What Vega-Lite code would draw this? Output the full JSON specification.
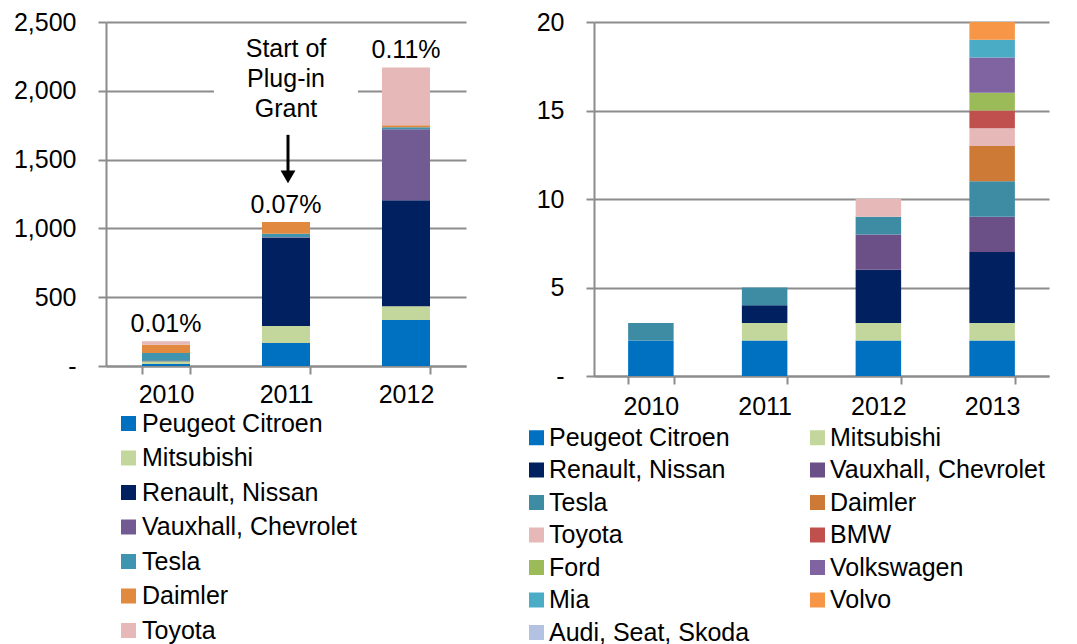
{
  "$schema": "https://vega.github.io/schema/vega-lite/v6.json",
  "padding": {"left": 13, "top": 10, "right": 5, "bottom": 5},
  "background": "white",
  "config": {
    "font": "Liberation Sans",
    "view": {"stroke": null},
    "axis": {"labelFont": "Liberation Sans", "labelFontSize": 25, "labelColor": "#000000", "domainColor": "#8c8c8c", "domainWidth": 2, "tickColor": "#8c8c8c", "tickWidth": 2, "tickSize": 8, "gridColor": "#8c8c8c", "gridWidth": 2, "title": null},
    "legend": {"orient": "none", "symbolType": "square", "symbolSize": 225, "symbolStrokeWidth": 0, "labelFont": "Liberation Sans", "labelFontSize": 25, "labelColor": "#000000", "labelLimit": 400, "title": null},
    "concat": {"spacing": 58}
  },
  "resolve": {"scale": {"color": "independent", "x": "independent", "y": "independent"}, "legend": {"color": "independent"}},
  "datasets": {
    "left": [
      {"year": "2010", "maker": "Peugeot Citroen", "k": 1, "value": 15},
      {"year": "2010", "maker": "Mitsubishi", "k": 2, "value": 20},
      {"year": "2010", "maker": "Renault, Nissan", "k": 3, "value": 5},
      {"year": "2010", "maker": "Tesla", "k": 5, "value": 55},
      {"year": "2010", "maker": "Daimler", "k": 6, "value": 60},
      {"year": "2010", "maker": "Toyota", "k": 7, "value": 25},
      {"year": "2011", "maker": "Peugeot Citroen", "k": 1, "value": 167},
      {"year": "2011", "maker": "Mitsubishi", "k": 2, "value": 124},
      {"year": "2011", "maker": "Renault, Nissan", "k": 3, "value": 640},
      {"year": "2011", "maker": "Vauxhall, Chevrolet", "k": 4, "value": 5},
      {"year": "2011", "maker": "Tesla", "k": 5, "value": 25},
      {"year": "2011", "maker": "Daimler", "k": 6, "value": 85},
      {"year": "2012", "maker": "Peugeot Citroen", "k": 1, "value": 334},
      {"year": "2012", "maker": "Mitsubishi", "k": 2, "value": 100},
      {"year": "2012", "maker": "Renault, Nissan", "k": 3, "value": 770},
      {"year": "2012", "maker": "Vauxhall, Chevrolet", "k": 4, "value": 516},
      {"year": "2012", "maker": "Tesla", "k": 5, "value": 15},
      {"year": "2012", "maker": "Daimler", "k": 6, "value": 15},
      {"year": "2012", "maker": "Toyota", "k": 7, "value": 420}
    ],
    "leftPct": [
      {"year": "2010", "total": 180, "t": "0.01%"},
      {"year": "2011", "total": 1046, "t": "0.07%"},
      {"year": "2012", "total": 2170, "t": "0.11%"}
    ],
    "note": [
      {"year": "2011", "y": 2304, "t": "Start of"},
      {"year": "2011", "y": 2086, "t": "Plug-in"},
      {"year": "2011", "y": 1868, "t": "Grant"}
    ],
    "noteBox": [{"year": "2011", "top": 2420, "bot": 1740}],
    "arrow": [{"year": "2011", "y1": 1680, "y2": 1380}],
    "arrowHead": [{"year": "2011", "y": 1375}],
    "right": [
      {"year": "2010", "maker": "Peugeot Citroen", "k": 1, "value": 2},
      {"year": "2010", "maker": "Tesla", "k": 5, "value": 1},
      {"year": "2011", "maker": "Peugeot Citroen", "k": 1, "value": 2},
      {"year": "2011", "maker": "Mitsubishi", "k": 2, "value": 1},
      {"year": "2011", "maker": "Renault, Nissan", "k": 3, "value": 1},
      {"year": "2011", "maker": "Tesla", "k": 5, "value": 1},
      {"year": "2012", "maker": "Peugeot Citroen", "k": 1, "value": 2},
      {"year": "2012", "maker": "Mitsubishi", "k": 2, "value": 1},
      {"year": "2012", "maker": "Renault, Nissan", "k": 3, "value": 3},
      {"year": "2012", "maker": "Vauxhall, Chevrolet", "k": 4, "value": 2},
      {"year": "2012", "maker": "Tesla", "k": 5, "value": 1},
      {"year": "2012", "maker": "Toyota", "k": 7, "value": 1},
      {"year": "2013", "maker": "Peugeot Citroen", "k": 1, "value": 2},
      {"year": "2013", "maker": "Mitsubishi", "k": 2, "value": 1},
      {"year": "2013", "maker": "Renault, Nissan", "k": 3, "value": 4},
      {"year": "2013", "maker": "Vauxhall, Chevrolet", "k": 4, "value": 2},
      {"year": "2013", "maker": "Tesla", "k": 5, "value": 2},
      {"year": "2013", "maker": "Daimler", "k": 6, "value": 2},
      {"year": "2013", "maker": "Toyota", "k": 7, "value": 1},
      {"year": "2013", "maker": "BMW", "k": 8, "value": 1},
      {"year": "2013", "maker": "Ford", "k": 9, "value": 1},
      {"year": "2013", "maker": "Volkswagen", "k": 10, "value": 2},
      {"year": "2013", "maker": "Mia", "k": 11, "value": 1},
      {"year": "2013", "maker": "Volvo", "k": 12, "value": 1}
    ]
  },
  "hconcat": [
    {
      "width": 360,
      "height": 344,
      "layer": [
        {
          "data": {"name": "left"},
          "mark": {"type": "bar"},
          "encoding": {
            "x": {"field": "year", "type": "ordinal", "scale": {"paddingInner": 0.6, "paddingOuter": 0.3}, "axis": {"labelAngle": 0, "tickBand": "extent", "labelPadding": 8, "title": null}},
            "y": {"field": "value", "type": "quantitative", "stack": "zero", "scale": {"domain": [0, 2500], "nice": false}, "axis": {"values": [0, 500, 1000, 1500, 2000, 2500], "labelExpr": "datum.value == 0 ? '-' : format(datum.value, ',')", "grid": true, "labelPadding": 22, "title": null}},
            "color": {"field": "maker", "type": "nominal", "scale": {"domain": ["Peugeot Citroen", "Mitsubishi", "Renault, Nissan", "Vauxhall, Chevrolet", "Tesla", "Daimler", "Toyota"], "range": ["#0070C0", "#C3D69B", "#002060", "#725A92", "#3F94B0", "#E0893F", "#E6B9B8"]}, "legend": {"legendX": 10, "legendY": 389, "rowPadding": 8.5, "labelOffset": 1}},
            "order": {"field": "k", "type": "quantitative"}
          }
        },
        {
          "data": {"name": "noteBox"},
          "mark": {"type": "bar", "color": "white", "width": {"band": 3}},
          "encoding": {
            "x": {"field": "year", "type": "ordinal"},
            "y": {"field": "top", "type": "quantitative"},
            "y2": {"field": "bot"}
          }
        },
        {
          "data": {"name": "note"},
          "mark": {"type": "text", "fontSize": 25, "color": "#000000", "baseline": "middle", "align": "center"},
          "encoding": {
            "x": {"field": "year", "type": "ordinal"},
            "y": {"field": "y", "type": "quantitative"},
            "text": {"field": "t"}
          }
        },
        {
          "data": {"name": "arrow"},
          "mark": {"type": "rule", "strokeWidth": 3, "color": "#000000", "xOffset": 2},
          "encoding": {
            "x": {"field": "year", "type": "ordinal"},
            "y": {"field": "y1", "type": "quantitative"},
            "y2": {"field": "y2"}
          }
        },
        {
          "data": {"name": "arrowHead"},
          "mark": {"type": "point", "shape": "triangle-down", "filled": true, "size": 220, "color": "#000000", "opacity": 1, "xOffset": 2},
          "encoding": {
            "x": {"field": "year", "type": "ordinal"},
            "y": {"field": "y", "type": "quantitative"}
          }
        },
        {
          "data": {"name": "leftPct"},
          "mark": {"type": "text", "fontSize": 25, "color": "#000000", "baseline": "bottom", "dy": -4},
          "encoding": {
            "x": {"field": "year", "type": "ordinal"},
            "y": {"field": "total", "type": "quantitative"},
            "text": {"field": "t"}
          }
        }
      ]
    },
    {
      "width": 455,
      "height": 354,
      "data": {"name": "right"},
      "mark": {"type": "bar"},
      "encoding": {
        "x": {"field": "year", "type": "ordinal", "scale": {"paddingInner": 0.6, "paddingOuter": 0.3}, "axis": {"labelAngle": 0, "tickBand": "extent", "labelPadding": 10, "title": null}},
        "y": {"field": "value", "type": "quantitative", "stack": "zero", "scale": {"domain": [0, 20], "nice": false}, "axis": {"values": [0, 5, 10, 15, 20], "labelExpr": "datum.value == 0 ? '-' : format(datum.value, ',')", "grid": true, "labelPadding": 22, "title": null}},
        "color": {"field": "maker", "type": "nominal", "scale": {"domain": ["Peugeot Citroen", "Renault, Nissan", "Tesla", "Toyota", "Ford", "Mia", "Audi, Seat, Skoda", "Mitsubishi", "Vauxhall, Chevrolet", "Daimler", "BMW", "Volkswagen", "Volvo"], "range": ["#0070C0", "#002060", "#3E8BA4", "#E6B9B8", "#9BBB59", "#4BACC6", "#B3C2E2", "#C3D69B", "#6A5087", "#CC7A36", "#C0504D", "#8064A2", "#F79646"]}, "legend": {"legendX": -70, "legendY": 403, "columns": 2, "rowPadding": 6.5, "columnPadding": 55, "labelOffset": 0}},
        "order": {"field": "k", "type": "quantitative"}
      }
    }
  ]
}
